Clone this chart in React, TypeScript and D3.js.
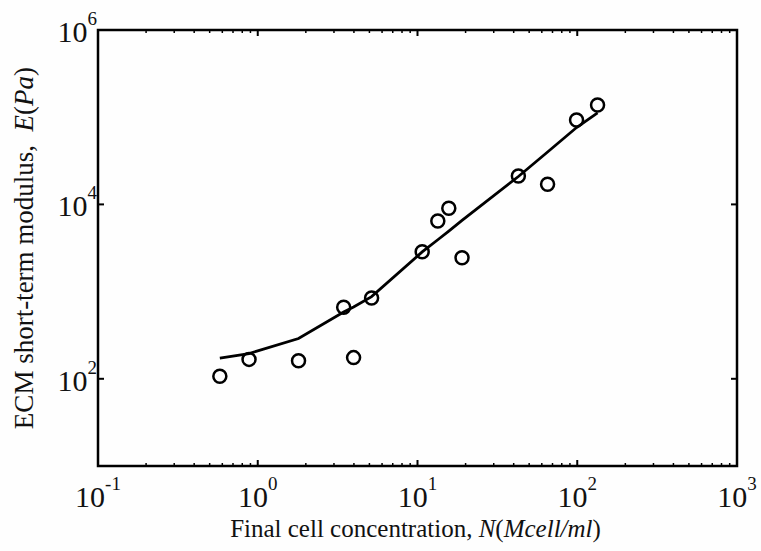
import React from "react";
import * as d3 from "d3";

const concN = [0.579, 0.882, 1.8, 3.45, 3.98, 5.16, 10.7, 13.4, 15.7, 19.0, 42.8, 65.2, 99, 134];
const modulusE = [107, 167, 161, 661, 175, 845, 2870, 6460, 9020, 2450, 21200, 17000, 92900, 138000];
const fitN = [0.579, 0.882, 1.8, 3.45, 3.98, 5.16, 10.7, 13.4, 15.7, 19.0, 42.8, 65.2, 99, 134];
const fitE = [173, 195, 290, 583, 665, 875, 2850, 3930, 4950, 6560, 20900, 39900, 76200, 112000];
const xTickExp = [-1, 0, 1, 2, 3];
const yTickExp = [2, 4, 6];

const W = 761, H = 551;
const L = 98, R = 737, T = 30, B = 466;
const FONT = "'Liberation Serif', 'Times New Roman', serif";

export default function App() {
  const x = d3.scaleLog().domain([0.1, 1000]).range([L, R]);
  const y = d3.scaleLog().domain([10, 1e6]).range([B, T]);

  const minor: number[] = [];
  for (let d = -1; d <= 2; d++) for (let k = 2; k <= 9; k++) minor.push(k * Math.pow(10, d));

  const line = d3.line<number>().x((_, i) => x(fitN[i])).y((v) => y(v));

  return (
    <svg width={W} height={H} style={{ position: "absolute", left: 0, top: 0, background: "#fff" }} fontFamily={FONT}>
      <rect x={0} y={0} width={W} height={H} fill="#fefefe" />
      {minor.map((v, i) => (
        <g key={"m" + i} stroke="#000" strokeWidth={1.5}>
          <line x1={x(v)} x2={x(v)} y1={B} y2={B - 3} />
          <line x1={x(v)} x2={x(v)} y1={T} y2={T + 3} />
        </g>
      ))}
      {xTickExp.map((e) => (
        <g key={"x" + e} stroke="#000" strokeWidth={2}>
          <line x1={x(Math.pow(10, e))} x2={x(Math.pow(10, e))} y1={B} y2={B - 6} />
          <line x1={x(Math.pow(10, e))} x2={x(Math.pow(10, e))} y1={T} y2={T + 6} />
        </g>
      ))}
      {yTickExp.map((e) => (
        <g key={"y" + e} stroke="#000" strokeWidth={2}>
          <line x1={L} x2={L + 6} y1={y(Math.pow(10, e))} y2={y(Math.pow(10, e))} />
          <line x1={R} x2={R - 6} y1={y(Math.pow(10, e))} y2={y(Math.pow(10, e))} />
        </g>
      ))}
      <rect x={L} y={T} width={R - L} height={B - T} fill="none" stroke="#000" strokeWidth={2.5} />
      {xTickExp.map((e) => (
        <text key={"xl" + e} x={x(Math.pow(10, e))} y={507} textAnchor="middle" fontSize={30} fill="#111">
          10<tspan dy={-17} fontSize={19}>{e}</tspan>
        </text>
      ))}
      {yTickExp.map((e) => (
        <text key={"yl" + e} x={97} y={y(Math.pow(10, e)) + 12} textAnchor="end" fontSize={30} fill="#111">
          10<tspan dy={-17} fontSize={19}>{e}</tspan>
        </text>
      ))}
      <path d={line(fitE) || ""} fill="none" stroke="#000" strokeWidth={2.8} />
      {concN.map((n, i) => (
        <circle key={"c" + i} cx={x(n)} cy={y(modulusE[i])} r={6.5} fill="none" stroke="#000" strokeWidth={2.5} />
      ))}
      <text x={(L + R) / 2 - 2} y={537} textAnchor="middle" fontSize={25} fill="#111">
        Final cell concentration, <tspan fontStyle="italic">N</tspan>(<tspan fontStyle="italic">Mcell/ml</tspan>)
      </text>
      <text transform={`translate(33, ${(T + B) / 2}) rotate(-90)`} textAnchor="middle" fontSize={27} fill="#111">
        ECM short-term modulus,{"\u00a0 "}<tspan fontStyle="italic">E</tspan>(<tspan fontStyle="italic">Pa</tspan>)
      </text>
    </svg>
  );
}
